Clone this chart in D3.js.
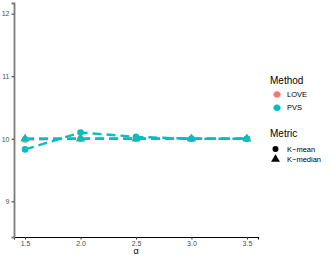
<!DOCTYPE html>
<html>
<head>
<meta charset="utf-8">
<script src="https://cdn.jsdelivr.net/npm/d3@7"></script>
<style>
  body { margin: 0; background: #fff; }
  svg { display: block; font-family: "Liberation Sans", Arial, sans-serif; }
</style>
</head>
<body>
<svg id="chart" width="332" height="258"></svg>
<script>
(function () {
    'use strict';

    // data
    const alphas = [1.5, 2.0, 2.5, 3.0, 3.5];
    const methods = ['LOVE', 'PVS'];
    const metrics = ['K\u2212mean', 'K\u2212median'];
    const loveMean = [9.99, 10.0, 10.0, 10.0, 10.0];
    const loveMedian = [10.0, 10.0, 10.0, 10.0, 10.0];
    const pvsMean = [9.83, 10.1, 10.03, 10.0, 10.0];
    const pvsMedian = [10.0, 10.0, 10.0, 10.0, 10.0];
    const yTicks = [9, 10, 11, 12];
    const xTicks = [1.5, 2.0, 2.5, 3.0, 3.5];

    const colors = { LOVE: '#F8766D', PVS: '#00BFC4' };

    const series = [
        { method: 'LOVE', metric: metrics[0], values: loveMean },
        { method: 'LOVE', metric: metrics[1], values: loveMedian },
        { method: 'PVS', metric: metrics[0], values: pvsMean },
        { method: 'PVS', metric: metrics[1], values: pvsMedian }
    ];

    const svg = d3.select('#chart');
    const left = 14, right = 258, top = 3, bottom = 237;

    const x = d3.scaleLinear().domain([1.4, 3.6]).range([left, right]);
    const y = d3.scaleLinear().domain([8.43, 12.17]).range([bottom, top]);

    // axes
    const xAxis = svg.append('g')
        .attr('transform', `translate(0,${bottom})`)
        .call(d3.axisBottom(x).tickValues(xTicks).tickFormat(d3.format('.1f')).tickSize(2.5).tickPadding(2));
    const yAxis = svg.append('g')
        .attr('transform', `translate(${left},0)`)
        .call(d3.axisLeft(y).tickValues(yTicks).tickFormat(d3.format('d')).tickSize(2.5).tickPadding(2));

    xAxis.select('.domain').attr('stroke', '#000').attr('stroke-width', 1.1);
    yAxis.select('.domain').attr('stroke', '#7a7a7a').attr('stroke-width', 1.8);
    [xAxis, yAxis].forEach(a => {
        a.selectAll('.tick line').attr('stroke', '#333').attr('stroke-width', 1);
        a.selectAll('.tick text').attr('fill', '#4d4d4d').attr('font-size', 7)
            .attr('font-family', '"Liberation Sans", Arial, sans-serif');
    });

    svg.append('text')
        .attr('x', (left + right) / 2)
        .attr('y', 254)
        .attr('text-anchor', 'middle')
        .attr('font-size', 9)
        .attr('fill', '#000')
        .text('\u03B1');

    // lines
    const line = d3.line()
        .x((d, i) => x(alphas[i]))
        .y(d => y(d));

    const tri = d3.symbol().type(d3.symbolTriangle).size(34);

    series.forEach(s => {
        svg.append('path')
            .datum(s.values)
            .attr('d', line)
            .attr('fill', 'none')
            .attr('stroke', colors[s.method])
            .attr('stroke-width', 2.4)
            .attr('stroke-dasharray', '9,5');

        const pts = svg.append('g')
            .selectAll('g')
            .data(s.values)
            .join('g')
            .attr('transform', (d, i) => `translate(${x(alphas[i])},${y(d)})`);
        if (s.metric === metrics[0]) {
            pts.append('circle').attr('r', 3.3).attr('fill', colors[s.method]);
        } else {
            pts.append('path').attr('d', tri).attr('fill', colors[s.method]);
        }
    });

    // legends
    const lg = svg.append('g').attr('font-family', '"Liberation Sans", Arial, sans-serif');
    lg.append('text').attr('x', 270).attr('y', 84).attr('font-size', 10).attr('fill', '#000').text('Method');
    methods.forEach((m, i) => {
        const cy = 94.5 + i * 13.3;
        lg.append('line').attr('x1', 273.5).attr('x2', 280.5).attr('y1', cy).attr('y2', cy)
            .attr('stroke', colors[m]).attr('stroke-width', 2.4);
        lg.append('circle').attr('cx', 277).attr('cy', cy).attr('r', 3.2).attr('fill', colors[m]);
        lg.append('text').attr('x', 287).attr('y', cy).attr('dy', '0.35em')
            .attr('font-size', 7.5).attr('fill', '#000').text(m);
    });

    lg.append('text').attr('x', 270).attr('y', 137).attr('font-size', 10).attr('fill', '#000').text('Metric');
    metrics.forEach((m, i) => {
        const cy = 149 + i * 10.3;
        if (i === 0) {
            lg.append('circle').attr('cx', 275.5).attr('cy', cy).attr('r', 3).attr('fill', '#000');
        } else {
            lg.append('path').attr('transform', `translate(275.5,${cy})`).attr('d', tri).attr('fill', '#000');
        }
        lg.append('text').attr('x', 287).attr('y', cy).attr('dy', '0.35em')
            .attr('font-size', 7.5).attr('fill', '#000').text(m);
    });
})();
</script>
</body>
</html>
